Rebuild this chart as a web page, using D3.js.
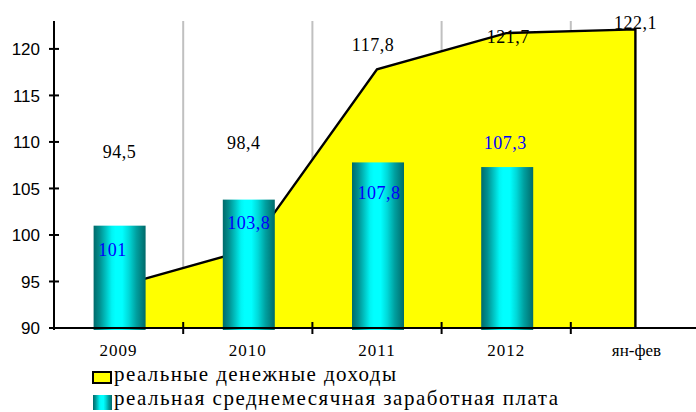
<!DOCTYPE html>
<html><head><meta charset="utf-8">
<script src="https://cdn.jsdelivr.net/npm/d3@7"></script>
<style>
html,body{margin:0;padding:0;background:#fff;}svg{display:block;}
.serif{font-family:"Liberation Serif","Times New Roman","DejaVu Serif",serif;}
.sans{font-family:"Liberation Sans",Arial,sans-serif;}
</style>
</head><body>
<svg id="c" width="696" height="412"></svg>
<script>
const categories = ["2009", "2010", "2011", "2012", "ян-фев"];
const incomeValues = [94.5, 98.4, 117.8, 121.7, 122.1];
const wageValues = [101, 103.8, 107.8, 107.3];
const incomeLabels = ["94,5", "98,4", "117,8", "121,7", "122,1"];
const wageLabels = ["101", "103,8", "107,8", "107,3"];
const yTicks = [90, 95, 100, 105, 110, 115, 120];
const legendNames = ["реальные денежные доходы", "реальная среднемесячная заработная плата"];

// layout constants (label placement relative to the data point)
const incomeLabelDy = [-134, -107, -25, 4, -7];
const incomeLabelDx = [1, -4, -4, 2, 0];
const wageLabelDy = [24, 23, 30, -24];
const wageLabelDx = [-6, 1, 2, -1];

const svg = d3.select("#c");
const plotL = 54, plotR = 700, plotT = 21, plotB = 328;

const x = d3.scaleBand().domain(categories).range([plotL, plotR]).paddingInner(0).paddingOuter(0);
const y = d3.scaleLinear().domain([90, 123]).range([plotB, plotT]);

const defs = svg.append("defs");
const g = defs.append("linearGradient").attr("id", "barGrad").attr("x1", "0").attr("x2", "1").attr("y1", "0").attr("y2", "0");
[[0, "#006a6a"], [0.12, "#009090"], [0.25, "#00c8c8"], [0.35, "#00f4f4"], [0.42, "#00ffff"], [0.55, "#00ffff"], [0.68, "#00d8d8"], [0.82, "#00a0a0"], [1, "#006a6a"]]
  .forEach(([o, c]) => g.append("stop").attr("offset", o).attr("stop-color", c));

const bounds = categories.slice(1).map(c => x(c));
svg.append("g").selectAll("line").data(bounds).join("line")
  .attr("x1", d => d).attr("x2", d => d).attr("y1", plotT).attr("y2", plotB)
  .attr("stroke", "#c0c0c0").attr("stroke-width", 2);

const pts = categories.map((c, i) => [x(c) + x.bandwidth() / 2, y(incomeValues[i])]);
const areaGen = d3.area().x(d => d[0]).y0(y(90)).y1(d => d[1]);
svg.append("path").datum(pts).attr("d", areaGen).attr("fill", "#ffff00");
const lastX = pts[pts.length - 1][0];
svg.append("path").datum(pts.concat([[lastX, y(90)]]))
  .attr("d", d3.line().x(d => d[0]).y(d => d[1]))
  .attr("fill", "none").attr("stroke", "#000").attr("stroke-width", 2.4).attr("stroke-linejoin", "miter");

const barW = 52;
svg.append("g").selectAll("rect").data(wageValues).join("rect")
  .attr("x", (d, i) => x(categories[i]) + x.bandwidth() / 2 - barW / 2 + 1)
  .attr("width", barW)
  .attr("y", d => y(d))
  .attr("height", d => y(90) - y(d) + 2)
  .attr("fill", "url(#barGrad)");

const yAxis = svg.append("g");
yAxis.append("line").attr("x1", plotL).attr("x2", plotL).attr("y1", plotT).attr("y2", plotB + 2).attr("stroke", "#000").attr("stroke-width", 2);
yAxis.selectAll("line.t").data(yTicks).join("line").attr("class", "t")
  .attr("x1", plotL - 5).attr("x2", plotL + 5).attr("y1", d => y(d)).attr("y2", d => y(d)).attr("stroke", "#000").attr("stroke-width", 2);
yAxis.selectAll("text").data(yTicks).join("text").attr("class", "sans")
  .attr("x", 40).attr("y", d => y(d)).attr("dy", "0.36em").attr("text-anchor", "end")
  .attr("font-size", 17).attr("fill", "#000")
  .text(d => d);

const xAxis = svg.append("g");
xAxis.append("line").attr("x1", plotL).attr("x2", 696).attr("y1", plotB).attr("y2", plotB).attr("stroke", "#000").attr("stroke-width", 2);
xAxis.selectAll("line.t").data(bounds).join("line").attr("class", "t")
  .attr("x1", d => d).attr("x2", d => d).attr("y1", plotB - 6).attr("y2", plotB + 6).attr("stroke", "#000").attr("stroke-width", 2);
xAxis.selectAll("text").data(categories).join("text").attr("class", "serif")
  .attr("x", (d, i) => x(d) + x.bandwidth() / 2 + (i === 4 ? 1 : 0)).attr("y", 356)
  .attr("text-anchor", "middle")
  .attr("font-size", 17).attr("fill", "#000")
  .attr("letter-spacing", (d, i) => i === 4 ? 0 : 1)
  .text(d => d);

svg.append("g").selectAll("text").data(incomeValues).join("text").attr("class", "serif")
  .attr("x", (d, i) => x(categories[i]) + x.bandwidth() / 2 + incomeLabelDx[i])
  .attr("y", (d, i) => y(d) + incomeLabelDy[i]).attr("dy", "0.35em")
  .attr("text-anchor", "middle")
  .attr("font-size", 18).attr("fill", "#000")
  .attr("letter-spacing", 0.5)
  .text((d, i) => incomeLabels[i]);

svg.append("g").selectAll("text").data(wageValues).join("text").attr("class", "serif")
  .attr("x", (d, i) => x(categories[i]) + x.bandwidth() / 2 + wageLabelDx[i])
  .attr("y", (d, i) => y(d) + wageLabelDy[i]).attr("dy", "0.35em")
  .attr("text-anchor", "middle")
  .attr("font-size", 18).attr("fill", "#0000ff")
  .attr("letter-spacing", 0.5)
  .text((d, i) => wageLabels[i]);

const leg = svg.append("g");
leg.append("rect").attr("x", 93).attr("y", 372).attr("width", 18).attr("height", 11)
  .attr("fill", "#ffff00").attr("stroke", "#000").attr("stroke-width", 2);
leg.append("rect").attr("x", 93).attr("y", 395).attr("width", 19).attr("height", 15)
  .attr("fill", "url(#barGrad)");
leg.selectAll("text").data(legendNames).join("text").attr("class", "serif")
  .attr("x", 114).attr("y", (d, i) => i === 0 ? 381 : 405)
  .attr("font-size", 21).attr("fill", "#000")
  .attr("textLength", (d, i) => i === 0 ? 282 : 444).attr("lengthAdjust", "spacing")
  .text(d => d);
</script>
</body></html>
